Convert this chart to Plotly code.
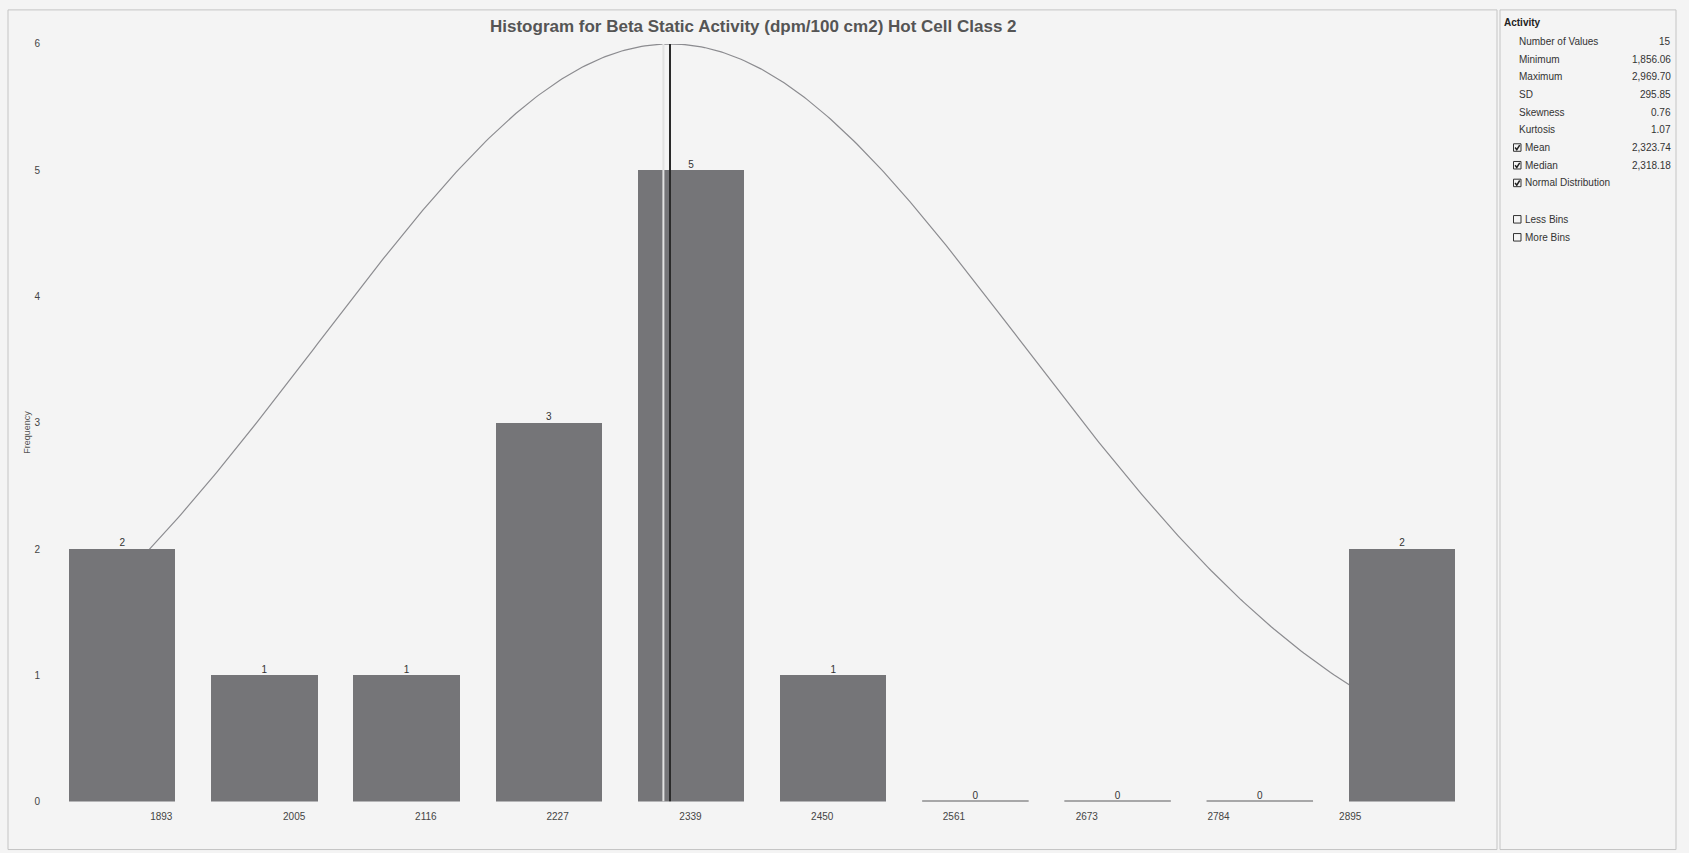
import numpy as np
import plotly.graph_objects as go

# ---------------- data ----------------
bin_labels = ["1893", "2005", "2116", "2227", "2339", "2450", "2561", "2673", "2784", "2895"]
bin_counts = [2, 1, 1, 3, 5, 1, 0, 0, 0, 2]

stat_names = ["Number of Values", "Minimum", "Maximum", "SD", "Skewness", "Kurtosis", "Mean", "Median"]
stat_values = ["15", "1,856.06", "2,969.70", "295.85", "0.76", "1.07", "2,323.74", "2,318.18"]
stat_checked = [None, None, None, None, None, None, True, True]

v_min = 1856.06
v_max = 2969.70
v_sd = 295.85
v_mean = 2323.74
v_median = 2318.18
freq_max = 6

option_names = ["Normal Distribution", "Less Bins", "More Bins"]
option_checked = [True, False, False]

title_text = "Histogram for Beta Static Activity (dpm/100 cm2) Hot Cell Class 2"

# ---------------- layout geometry (pixels) ----------------
FW, FH = 1689, 853
L, R, T, B = 50, 1490, 43, 801
PX_PER_UNIT = 1.1866      # data axis scale
MEAN_PX = 670             # pixel position of the mean
BAR_PITCH = 142.2
BAR0_PX = 122.2
BAR_W = 0.749
Y_SCALE, Y_OFF = 0.9887, 4.1   # compensation for vertical rendering offset


def px(x):
    return x / FW


def py(y):
    return 1 - ((y - Y_OFF) / Y_SCALE) / FH


x_range = [v_mean - (MEAN_PX - L) / PX_PER_UNIT, v_mean + (R - MEAN_PX) / PX_PER_UNIT]
xb_range = [-(BAR0_PX - L) / BAR_PITCH, (R - BAR0_PX) / BAR_PITCH]

fig = go.Figure()

# normal distribution curve (data axis)
xs = np.linspace(v_min, v_max, 400)
ys = freq_max * np.exp(-0.5 * ((xs - v_mean) / v_sd) ** 2)
fig.add_trace(go.Scatter(x=xs, y=ys, mode="lines", line=dict(color="#8c8c90", width=1.2),
                         xaxis="x", yaxis="y", hoverinfo="skip", showlegend=False))

# bars (bar axis)
idx = list(range(len(bin_counts)))
fig.add_trace(go.Bar(x=idx, y=bin_counts, width=BAR_W, marker=dict(color="#757578", line=dict(width=0)),
                     xaxis="x2", yaxis="y", showlegend=False))

# zero-count bars drawn as a thin baseline
zx, zy = [], []
for i, c in zip(idx, bin_counts):
    if c == 0:
        zx += [i - BAR_W / 2, i + BAR_W / 2, None]
        zy += [0, 0, None]
fig.add_trace(go.Scatter(x=zx, y=zy, mode="lines", line=dict(color="#5a5a5c", width=2),
                         xaxis="x2", yaxis="y", hoverinfo="skip", showlegend=False))

# value labels
fig.add_trace(go.Scatter(x=idx, y=bin_counts, mode="text", text=[str(c) for c in bin_counts],
                         textposition="top center", textfont=dict(family="Liberation Sans", size=10, color="#333"),
                         xaxis="x2", yaxis="y", hoverinfo="skip", showlegend=False))

shapes = []
# median line (light) and mean line (dark)
shapes.append(dict(type="line", xref="x", yref="y", x0=v_median, x1=v_median, y0=0, y1=freq_max,
                   line=dict(color="#e2e2e2", width=2)))
shapes.append(dict(type="line", xref="x", yref="y", x0=v_mean, x1=v_mean, y0=0, y1=freq_max,
                   line=dict(color="#2a2a2a", width=2)))
# panel frames
shapes.append(dict(type="rect", xref="paper", yref="paper", x0=px(8), x1=px(1497), y0=py(849), y1=py(9),
                   line=dict(color="#c4c4c4", width=1)))
shapes.append(dict(type="rect", xref="paper", yref="paper", x0=px(1500), x1=px(1676), y0=py(849), y1=py(9),
                   line=dict(color="#c4c4c4", width=1)))

annotations = []
annotations.append(dict(text="<b>" + title_text + "</b>", xref="paper", yref="paper", x=px(753), y=py(26),
                        xanchor="center", yanchor="middle", showarrow=False,
                        font=dict(family="Liberation Sans", size=17, color="#555")))
annotations.append(dict(text="Frequency", xref="paper", yref="paper", x=px(27), y=py(432), textangle=-90,
                        xanchor="center", yanchor="middle", showarrow=False,
                        font=dict(family="Liberation Sans", size=9, color="#555")))

# stats panel
small = dict(family="Liberation Sans", size=10, color="#333")
annotations.append(dict(text="<b>Activity</b>", xref="paper", yref="paper", x=px(1502), y=py(22),
                        xanchor="left", yanchor="middle", showarrow=False,
                        font=dict(family="Liberation Sans", size=10, color="#222")))
row_y0, row_dy = 40.5, 17.7


def checkbox(xl, yc, checked):
    s = 7.5
    out = [dict(type="rect", xref="paper", yref="paper", x0=px(xl), x1=px(xl + s), y0=py(yc + s / 2),
                y1=py(yc - s / 2), line=dict(color="#333", width=1))]
    if checked:
        path = "M {} {} L {} {} L {} {}".format(px(xl + 1.6), py(yc), px(xl + 3.3), py(yc + 2.2),
                                                 px(xl + 6.2), py(yc - 2.4))
        out.append(dict(type="path", xref="paper", yref="paper", path=path, line=dict(color="#222", width=1.5)))
    return out


for k, (name, val, chk) in enumerate(zip(stat_names, stat_values, stat_checked)):
    yc = row_y0 + k * row_dy
    xl = 1516.5
    if chk is not None:
        shapes += checkbox(1513.5, yc, chk)
        xl = 1522.5
    annotations.append(dict(text=name, xref="paper", yref="paper", x=px(xl), y=py(yc), xanchor="left",
                            yanchor="middle", showarrow=False, font=small))
    annotations.append(dict(text=val, xref="paper", yref="paper", x=px(1673), y=py(yc), xanchor="right",
                            yanchor="middle", showarrow=False, font=small))

opt_y = [row_y0 + 8 * row_dy, 218.5, 236.5]
for name, chk, yc in zip(option_names, option_checked, opt_y):
    shapes += checkbox(1513.5, yc, chk)
    annotations.append(dict(text=name, xref="paper", yref="paper", x=px(1522.5), y=py(yc), xanchor="left",
                            yanchor="middle", showarrow=False, font=small))

tick_font = dict(family="Liberation Sans", size=10, color="#444")
fig.update_layout(
    width=FW, height=FH,
    margin=dict(l=0, r=0, t=0, b=0),
    paper_bgcolor="#f4f4f4", plot_bgcolor="rgba(0,0,0,0)",
    xaxis=dict(domain=[px(L), px(R)], range=x_range, anchor="y",
               tickvals=[float(v) + 2 for v in bin_labels], ticktext=bin_labels,
               showgrid=False, zeroline=False, showline=False, ticks="",
               ticklabelstandoff=7, tickfont=tick_font, fixedrange=True),
    xaxis2=dict(domain=[px(L), px(R)], range=xb_range, overlaying="x", anchor="y", visible=False),
    yaxis=dict(domain=[py(B), py(T)], range=[0, freq_max], tickvals=list(range(freq_max + 1)),
               showgrid=False, zeroline=False, showline=False, ticks="", ticklabelstandoff=9,
               tickfont=tick_font),
    bargap=0,
    shapes=shapes,
    annotations=annotations,
)

post = ("document.documentElement.style.overflow='hidden';"
        "document.body.style.margin='0px';document.body.style.overflow='hidden';"
        "var gd=document.getElementById('{plot_id}');"
        "gd.style.position='fixed';gd.style.top='0px';gd.style.left='0px';")
fig.write_html("out.html", config={"displayModeBar": False}, post_script=post)
